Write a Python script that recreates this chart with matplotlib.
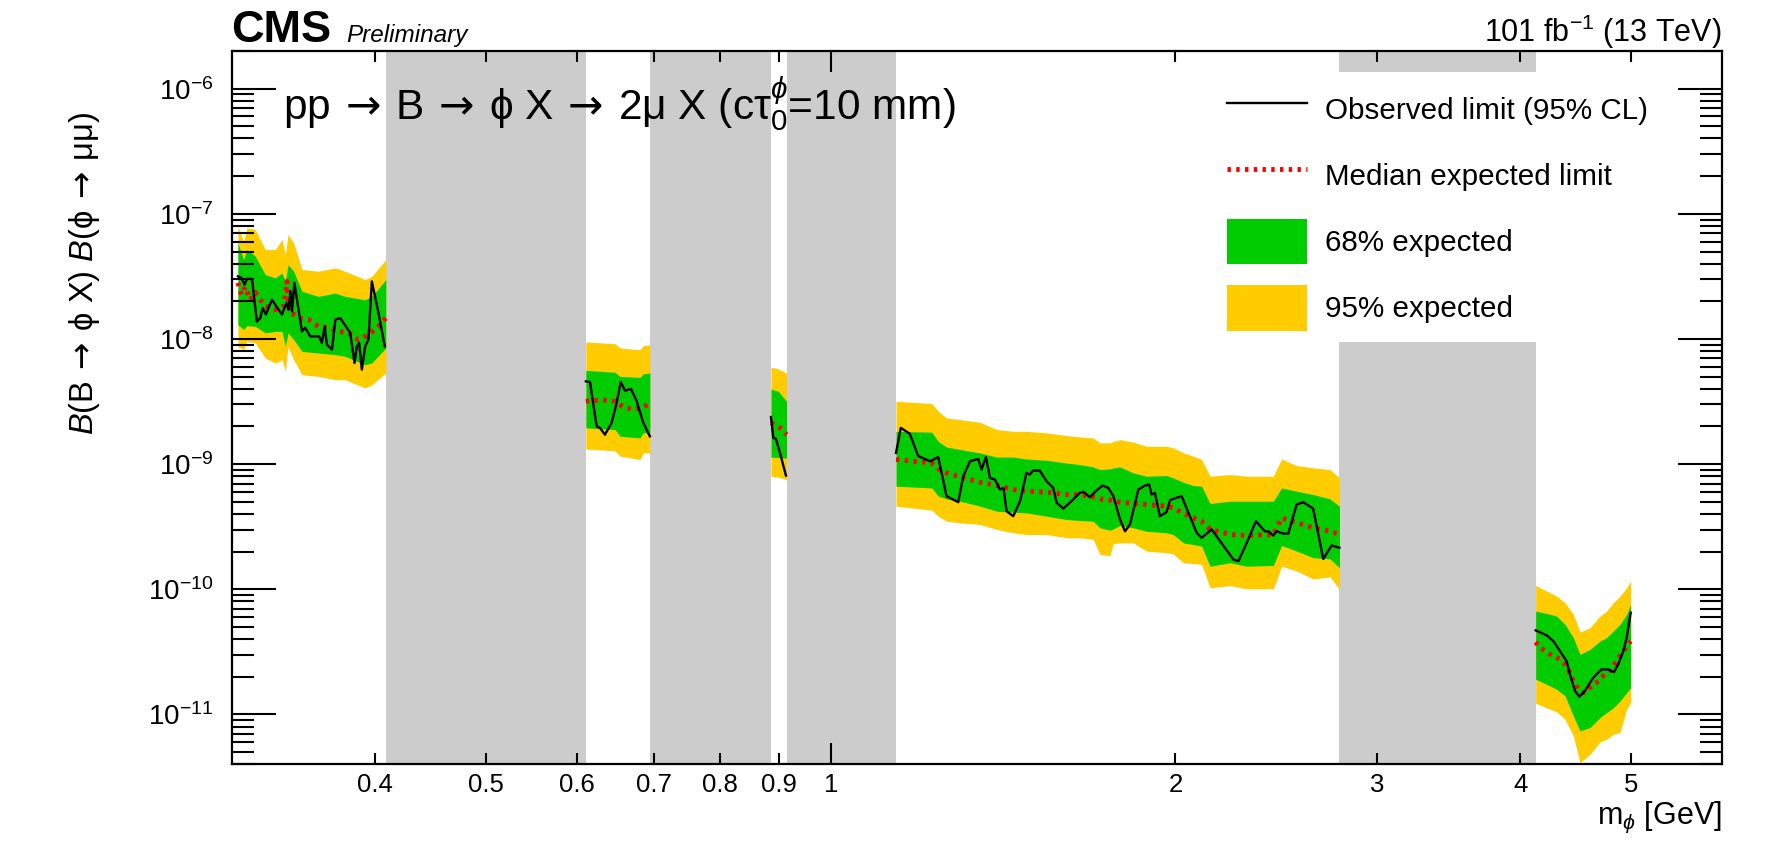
import numpy as np
import matplotlib
matplotlib.use('Agg')
import matplotlib.pyplot as plt
from matplotlib.lines import Line2D
from matplotlib.patches import Patch, Rectangle
from matplotlib.ticker import FixedLocator, FixedFormatter, LogLocator, NullFormatter

plt.rcParams['font.family'] = ['Liberation Sans', 'DejaVu Sans']
plt.rcParams['mathtext.fontset'] = 'custom'
plt.rcParams['mathtext.rm'] = 'Liberation Sans'
plt.rcParams['mathtext.it'] = 'Liberation Sans:italic'
plt.rcParams['mathtext.bf'] = 'Liberation Sans:bold'
plt.rcParams['mathtext.sf'] = 'DejaVu Sans'
plt.rcParams['mathtext.fallback'] = 'stixsans'

# ---------------- data ----------------
# excluded mass windows [GeV]
veto_lo = [0.4085, 0.695, 0.915, 2.781]
veto_hi = [0.611, 0.8865, 1.140, 4.127]

# --- segment A (0.30 - 0.41 GeV)
mA_band = [0.3034, 0.3069, 0.3090, 0.3142, 0.3206, 0.3271, 0.3315, 0.3338, 0.3356, 0.3394,
           0.3451, 0.3568, 0.3691, 0.3764, 0.3919, 0.3972, 0.4085]
p2A = [7.96e-8, 6.04e-8, 7.73e-8, 7.49e-8, 5.18e-8, 5.18e-8, 6.23e-8, 4.73e-8, 6.83e-8, 5.86e-8,
       3.59e-8, 3.48e-8, 3.70e-8, 3.48e-8, 2.98e-8, 3.17e-8, 4.31e-8]
p1A = [5.86e-8, 4.31e-8, 5.18e-8, 4.58e-8, 3.27e-8, 3.08e-8, 3.37e-8, 2.89e-8, 3.93e-8, 3.48e-8,
       2.41e-8, 2.19e-8, 2.33e-8, 2.19e-8, 2.06e-8, 2.19e-8, 2.98e-8]
m1A = [1.30e-8, 1.19e-8, 1.28e-8, 1.26e-8, 1.12e-8, 1.15e-8, 1.15e-8, 8.73e-9, 1.12e-8, 9.88e-9,
       7.96e-9, 7.73e-9, 7.49e-9, 7.27e-9, 6.23e-9, 6.43e-9, 8.47e-9]
m2A = [8.73e-9, 8.22e-9, 9.58e-9, 9.29e-9, 7.05e-9, 6.43e-9, 6.83e-9, 5.51e-9, 8.73e-9, 6.83e-9,
       5.18e-9, 5.03e-9, 4.73e-9, 4.73e-9, 4.06e-9, 4.31e-9, 5.35e-9]
mA_exp = [0.3034, 0.3055, 0.3079, 0.3111, 0.3142, 0.3174, 0.3206, 0.3271, 0.3326, 0.3349, 0.3365,
          0.3394, 0.3428, 0.3498, 0.3568, 0.3641, 0.3715, 0.3790, 0.3867, 0.3945, 0.4026, 0.4085]
expA = [2.81e-8, 2.26e-8, 2.61e-8, 2.06e-8, 2.36e-8, 2.06e-8, 1.83e-8, 1.72e-8, 1.83e-8, 2.89e-8, 1.61e-8,
        1.57e-8, 1.47e-8, 1.43e-8, 1.26e-8, 1.23e-8, 1.15e-8, 1.12e-8, 9.88e-9, 1.08e-8, 1.26e-8, 1.47e-8]
mA_obs = [0.3034, 0.3055, 0.3075, 0.3090, 0.3121, 0.3152, 0.3174, 0.3189, 0.3210, 0.3249, 0.3315, 0.3345,
          0.3360, 0.3372, 0.3383, 0.3399, 0.3451, 0.3474, 0.3509, 0.3573, 0.3592, 0.3612, 0.3629, 0.3666,
          0.3691, 0.3727, 0.3803, 0.3836, 0.3854, 0.3872, 0.3893, 0.3919, 0.3945, 0.3972, 0.4026, 0.4077]
obsA = [3.17e-8, 3.08e-8, 2.72e-8, 3.02e-8, 3.02e-8, 1.38e-8, 1.47e-8, 1.77e-8, 1.57e-8, 2.06e-8, 1.57e-8, 1.94e-8,
        1.72e-8, 2.41e-8, 1.66e-8, 2.81e-8, 1.15e-8, 1.23e-8, 1.05e-8, 1.05e-8, 9.29e-9, 1.26e-8, 9.01e-9, 8.22e-9,
        1.43e-8, 1.47e-8, 1.12e-8, 6.43e-9, 8.73e-9, 9.29e-9, 5.69e-9, 8.73e-9, 9.88e-9, 2.89e-8, 1.61e-8, 8.73e-9]

# --- segment B (0.61 - 0.70 GeV)
mB_band = [0.6109, 0.6477, 0.6543, 0.6812, 0.6857, 0.6948]
p2B = [9.47e-9, 9.17e-9, 8.47e-9, 8.21e-9, 8.84e-9, 8.95e-9]
p1B = [5.62e-9, 5.42e-9, 5.03e-9, 4.94e-9, 5.28e-9, 5.35e-9]
m1B = [1.95e-9, 1.89e-9, 1.67e-9, 1.62e-9, 1.78e-9, 1.78e-9]
m2B = [1.32e-9, 1.28e-9, 1.16e-9, 1.09e-9, 1.23e-9, 1.23e-9]
mB_exp = [0.6109, 0.6201, 0.6370, 0.6477, 0.6587, 0.6722, 0.6857, 0.6948]
expB = [3.18e-9, 3.24e-9, 3.24e-9, 3.18e-9, 2.86e-9, 2.73e-9, 2.86e-9, 3.05e-9]
mB_obs = [0.6109, 0.6160, 0.6243, 0.6284, 0.6348, 0.6434, 0.6499, 0.6552, 0.6610, 0.6690, 0.6767, 0.6857, 0.6948]
obsB = [4.59e-9, 4.53e-9, 2.01e-9, 1.95e-9, 1.72e-9, 2.14e-9, 3.08e-9, 4.53e-9, 3.87e-9, 3.99e-9, 3.18e-9,
        2.14e-9, 1.67e-9]

# --- segment C (0.89 - 0.92 GeV)
mC_band = [0.8865, 0.8997, 0.9147]
p2C = [5.97e-9, 5.76e-9, 5.35e-9]
p1C = [3.99e-9, 3.82e-9, 3.18e-9]
m1C = [1.14e-9, 1.13e-9, 1.12e-9]
m2C = [8.01e-10, 7.87e-10, 7.53e-10]
mC_exp = [0.8865, 0.8997, 0.9147]
expC = [2.14e-9, 2.01e-9, 1.72e-9]
mC_obs = [0.8865, 0.8907, 0.8954, 0.9027, 0.9136]
obsC = [2.38e-9, 1.62e-9, 1.59e-9, 1.23e-9, 8.11e-10]

# --- segment D (1.14 - 2.78 GeV)
mD_band = [1.140, 1.225, 1.241, 1.262, 1.297, 1.350, 1.396, 1.443, 1.482, 1.543, 1.607, 1.650, 1.695,
           1.718, 1.753, 1.765, 1.789, 1.837, 1.887, 1.964, 1.991, 2.032, 2.073, 2.108, 2.144, 2.232,
           2.308, 2.435, 2.476, 2.552, 2.638, 2.729, 2.781]
p2D = [3.18e-9, 3.05e-9, 2.65e-9, 2.34e-9, 2.27e-9, 2.16e-9, 1.89e-9, 1.83e-9, 1.83e-9, 1.78e-9, 1.69e-9,
       1.65e-9, 1.62e-9, 1.48e-9, 1.48e-9, 1.52e-9, 1.57e-9, 1.50e-9, 1.39e-9, 1.39e-9, 1.35e-9, 1.23e-9,
       1.16e-9, 1.09e-9, 8.01e-10, 8.26e-10, 8.01e-10, 8.01e-10, 1.10e-9, 9.74e-10, 9.34e-10, 9.06e-10, 7.77e-10]
p1D = [1.83e-9, 1.80e-9, 1.52e-9, 1.37e-9, 1.31e-9, 1.23e-9, 1.14e-9, 1.14e-9, 1.10e-9, 1.075e-9, 1.02e-9,
       9.93e-10, 9.51e-10, 9.06e-10, 9.17e-10, 9.34e-10, 9.51e-10, 8.52e-10, 8.01e-10, 8.11e-10, 7.77e-10,
       7.17e-10, 6.75e-10, 6.66e-10, 4.85e-10, 5.06e-10, 5.06e-10, 5.06e-10, 6.46e-10, 6.08e-10, 5.72e-10,
       5.28e-10, 4.62e-10]
m1D = [6.66e-10, 6.46e-10, 5.55e-10, 5.28e-10, 5.06e-10, 4.62e-10, 4.21e-10, 4.13e-10, 4.08e-10, 3.84e-10,
       3.61e-10, 3.55e-10, 3.50e-10, 3.10e-10, 2.97e-10, 3.04e-10, 3.24e-10, 3.10e-10, 2.91e-10, 2.83e-10,
       2.74e-10, 2.35e-10, 2.28e-10, 2.21e-10, 1.53e-10, 1.63e-10, 1.53e-10, 1.55e-10, 2.24e-10, 2.02e-10,
       1.79e-10, 1.75e-10, 1.49e-10]
m2D = [4.62e-10, 4.29e-10, 3.84e-10, 3.50e-10, 3.40e-10, 3.30e-10, 3.01e-10, 2.83e-10, 2.74e-10, 2.74e-10,
       2.58e-10, 2.58e-10, 2.50e-10, 1.90e-10, 1.86e-10, 2.32e-10, 2.35e-10, 2.35e-10, 2.02e-10, 1.96e-10,
       1.92e-10, 1.63e-10, 1.61e-10, 1.58e-10, 1.03e-10, 1.07e-10, 1.01e-10, 1.01e-10, 1.53e-10, 1.40e-10,
       1.21e-10, 1.26e-10, 9.98e-11]
mD_exp = mD_band
expD = [1.09e-9, 1.02e-9, 9.17e-10, 8.52e-10, 7.91e-10, 7.17e-10, 6.75e-10, 6.27e-10, 6.08e-10, 5.97e-10,
        5.72e-10, 5.72e-10, 5.48e-10, 5.28e-10, 5.16e-10, 5.06e-10, 4.97e-10, 4.85e-10, 4.76e-10, 4.62e-10,
        4.48e-10, 4.03e-10, 3.72e-10, 3.50e-10, 3.01e-10, 2.74e-10, 2.69e-10, 2.74e-10, 3.72e-10, 3.40e-10,
        3.10e-10, 2.91e-10, 2.74e-10]
mD_obs = [1.140, 1.151, 1.172, 1.192, 1.221, 1.241, 1.262, 1.292, 1.305, 1.323, 1.345, 1.354, 1.366, 1.377,
          1.391, 1.405, 1.415, 1.424, 1.443, 1.463, 1.482, 1.492, 1.502, 1.522, 1.543, 1.564, 1.575, 1.596,
          1.628, 1.650, 1.663, 1.683, 1.706, 1.727, 1.747, 1.765, 1.789, 1.807, 1.825, 1.856, 1.881, 1.897,
          1.906, 1.919, 1.938, 1.964, 1.978, 1.991, 2.025, 2.087, 2.108, 2.151, 2.247, 2.270, 2.308, 2.351,
          2.394, 2.411, 2.435, 2.451, 2.484, 2.509, 2.552, 2.586, 2.638, 2.692, 2.738, 2.781]
obsD = [1.23e-9, 1.95e-9, 1.75e-9, 1.16e-9, 1.055e-9, 1.14e-9, 5.55e-10, 4.97e-10, 8.01e-10, 1.055e-9,
        1.10e-9, 9.06e-10, 1.14e-9, 7.77e-10, 7.53e-10, 6.27e-10, 6.46e-10, 4.21e-10, 3.84e-10, 5.06e-10,
        8.52e-10, 8.26e-10, 8.89e-10, 8.89e-10, 7.31e-10, 6.46e-10, 4.91e-10, 4.42e-10, 5.22e-10, 5.90e-10,
        6.01e-10, 5.45e-10, 6.16e-10, 6.75e-10, 6.46e-10, 5.55e-10, 3.61e-10, 2.91e-10, 3.30e-10, 6.27e-10,
        6.75e-10, 6.87e-10, 5.72e-10, 5.90e-10, 3.84e-10, 4.13e-10, 5.16e-10, 5.28e-10, 5.55e-10, 2.83e-10,
        2.58e-10, 3.01e-10, 1.73e-10, 1.68e-10, 2.35e-10, 3.50e-10, 2.91e-10, 2.91e-10, 2.69e-10, 2.91e-10,
        2.79e-10, 2.78e-10, 4.76e-10, 4.97e-10, 4.42e-10, 1.75e-10, 2.24e-10, 2.15e-10]

# --- segment E (4.13 - 5.0 GeV)
mE_band = [4.127, 4.220, 4.305, 4.378, 4.452, 4.512, 4.603, 4.697, 4.760, 4.824, 4.890, 4.956, 4.996]
p2E = [1.074e-10, 9.68e-11, 8.83e-11, 7.81e-11, 6.30e-11, 4.56e-11, 4.93e-11, 6.11e-11, 6.70e-11, 7.81e-11,
       8.83e-11, 1.03e-10, 1.163e-10]
p1E = [6.70e-11, 6.42e-11, 6.11e-11, 5.25e-11, 4.11e-11, 3.02e-11, 3.31e-11, 3.86e-11, 4.11e-11, 4.64e-11,
       5.25e-11, 6.30e-11, 7.58e-11]
m1E = [1.91e-11, 1.74e-11, 1.59e-11, 1.41e-11, 9.73e-12, 7.39e-12, 7.86e-12, 9.44e-12, 1.035e-11, 1.13e-11,
       1.28e-11, 1.49e-11, 1.64e-11]
m2E = [1.23e-11, 1.13e-11, 1.05e-11, 9.16e-12, 6.74e-12, 4.13e-12, 4.81e-12, 6.04e-12, 6.34e-12, 6.95e-12,
       7.17e-12, 1.10e-11, 1.24e-11]
mE_exp = [4.127, 4.164, 4.248, 4.334, 4.392, 4.452, 4.497, 4.542, 4.603, 4.665, 4.728, 4.792, 4.857, 4.923, 4.996]
expE = [3.79e-11, 3.42e-11, 3.02e-11, 2.76e-11, 2.44e-11, 1.85e-11, 1.59e-11, 1.49e-11, 1.64e-11, 1.80e-11,
        2.03e-11, 2.23e-11, 2.67e-11, 3.21e-11, 3.86e-11]
mE_obs = [4.127, 4.220, 4.276, 4.334, 4.392, 4.422, 4.467, 4.506, 4.557, 4.588, 4.634, 4.681, 4.712, 4.776,
          4.831, 4.873, 4.923, 4.956, 4.996]
obsE = [4.70e-11, 4.29e-11, 3.86e-11, 3.21e-11, 2.67e-11, 2.09e-11, 1.54e-11, 1.39e-11, 1.54e-11, 1.71e-11,
        1.97e-11, 2.16e-11, 2.29e-11, 2.29e-11, 2.18e-11, 2.52e-11, 3.21e-11, 4.11e-11, 6.50e-11]

xtick_minor = [0.4, 0.5, 0.6, 0.7, 0.8, 0.9, 2, 3, 4, 5]
xtick_minor_labels = ['0.4', '0.5', '0.6', '0.7', '0.8', '0.9', '2', '3', '4', '5']
xtick_major = [1]
xtick_major_labels = ['1']
ytick_major = [1e-11, 1e-10, 1e-9, 1e-8, 1e-7, 1e-6]
ytick_major_labels = [r'$\mathdefault{10^{-11}}$', r'$\mathdefault{10^{-10}}$', r'$\mathdefault{10^{-9}}$',
                      r'$\mathdefault{10^{-8}}$', r'$\mathdefault{10^{-7}}$', r'$\mathdefault{10^{-6}}$']

legend_labels = ['Observed limit (95% CL)', 'Median expected limit', '68% expected', '95% expected']

# ---------------- drawing ----------------
GREEN = '#00cc00'
YELLOW = '#ffcc00'
GRAY = '#cccccc'
EXP_STYLE = (0, (0.7, 1.1))
ARROW = r'$\:\mathsf{\rightarrow}\:$'

W, H = 1767, 843
fig = plt.figure(figsize=(W / 100, H / 100), dpi=100)
ax = fig.add_axes([232.3 / W, 1 - 764.3 / H, (1721.7 - 232.3) / W, (764.3 - 51) / H])
ax.set_xscale('log')
ax.set_yscale('log')
ax.set_xlim(0.3, 6.0)
ax.set_ylim(4e-12, 2e-6)

for lo, hi in zip(veto_lo, veto_hi):
    ax.axvspan(lo, hi, color=GRAY, lw=0, zorder=1)
# legend box hides part of the last window
ax.add_patch(Rectangle((veto_lo[3], 9.4e-9), veto_hi[3] - veto_lo[3], 1.35e-6 - 9.4e-9,
                       facecolor='white', edgecolor='none', zorder=1.05))

segments = [
    (mA_band, p2A, p1A, m1A, m2A, mA_exp, expA, mA_obs, obsA),
    (mB_band, p2B, p1B, m1B, m2B, mB_exp, expB, mB_obs, obsB),
    (mC_band, p2C, p1C, m1C, m2C, mC_exp, expC, mC_obs, obsC),
    (mD_band, p2D, p1D, m1D, m2D, mD_exp, expD, mD_obs, obsD),
    (mE_band, p2E, p1E, m1E, m2E, mE_exp, expE, mE_obs, obsE),
]
for mb, p2, p1, m1, m2, me, ex, mo, ob in segments:
    ax.fill_between(mb, m2, p2, color=YELLOW, lw=0, zorder=1.2)
    ax.fill_between(mb, m1, p1, color=GREEN, lw=0, zorder=1.3)
    ax.plot(me, ex, color='red', lw=3.5, ls=EXP_STYLE, zorder=2)
    ax.plot(mo, ob, color='black', lw=1.7, zorder=2.1)

# axes / ticks
ax.set_axisbelow(False)
ax.xaxis.set_major_locator(FixedLocator(xtick_major))
ax.xaxis.set_major_formatter(FixedFormatter(xtick_major_labels))
ax.xaxis.set_minor_locator(FixedLocator(xtick_minor))
ax.xaxis.set_minor_formatter(FixedFormatter(xtick_minor_labels))
ax.yaxis.set_major_locator(FixedLocator(ytick_major))
ax.yaxis.set_major_formatter(FixedFormatter(ytick_major_labels))
ax.yaxis.set_minor_locator(LogLocator(base=10, subs=np.arange(2, 10)))
ax.yaxis.set_minor_formatter(NullFormatter())
ax.tick_params(which='both', direction='in', top=True, right=True, width=1.5, color='black')
ax.tick_params(axis='x', which='major', length=15.1, labelsize=18.5, pad=6.5)
ax.tick_params(axis='x', which='minor', length=7.6, labelsize=18.5, pad=6.5)
ax.tick_params(axis='y', which='major', length=31.7, labelsize=20, pad=13.5)
ax.tick_params(axis='y', which='minor', length=15.8)
for s in ax.spines.values():
    s.set_linewidth(1.6)

# legend
handles = [Line2D([], [], color='black', lw=1.7),
           Line2D([], [], color='red', lw=3.5, ls=EXP_STYLE),
           Patch(facecolor=GREEN, edgecolor='none'),
           Patch(facecolor=YELLOW, edgecolor='none')]
ax.legend(handles, legend_labels, loc='upper left', bbox_to_anchor=(0.6678, 0.9502),
          frameon=False, fontsize=21.3, handlelength=2.72, handleheight=2.0, labelspacing=0.69,
          handletextpad=0.61, borderpad=0, borderaxespad=0)

# texts
fig.text(231.5 / W, 1 - 41.7 / H, 'CMS', fontsize=32.5, fontweight='bold', ha='left', va='baseline')
fig.text(346 / W, 1 - 41.7 / H, 'Preliminary', fontsize=17.5, style='italic', ha='left', va='baseline')
fig.text(1721.9 / W, 1 - 41.7 / H, r'101 fb$^{-1}$ (13 TeV)', fontsize=22, ha='right', va='baseline')
fig.text(283 / W, 1 - 120 / H,
         'pp' + ARROW + 'B' + ARROW + 'ϕ X' + ARROW + r'2μ X (cτ$_{0}^{ϕ}$=10 mm)',
         fontsize=30.5, ha='left', va='baseline')
fig.text(1721.7 / W, 1 - 824 / H, r'm$_{ϕ}$ [GeV]', fontsize=22, ha='right', va='baseline')
fig.text(84.5 / W, 1 - 273.5 / H,
         r'$\mathit{B}$(B' + ARROW + r'ϕ X) $\mathit{B}$(ϕ' + ARROW + 'μμ)',
         fontsize=23.5, rotation=90, ha='center', va='center')

fig.savefig('out.png', dpi=100)
